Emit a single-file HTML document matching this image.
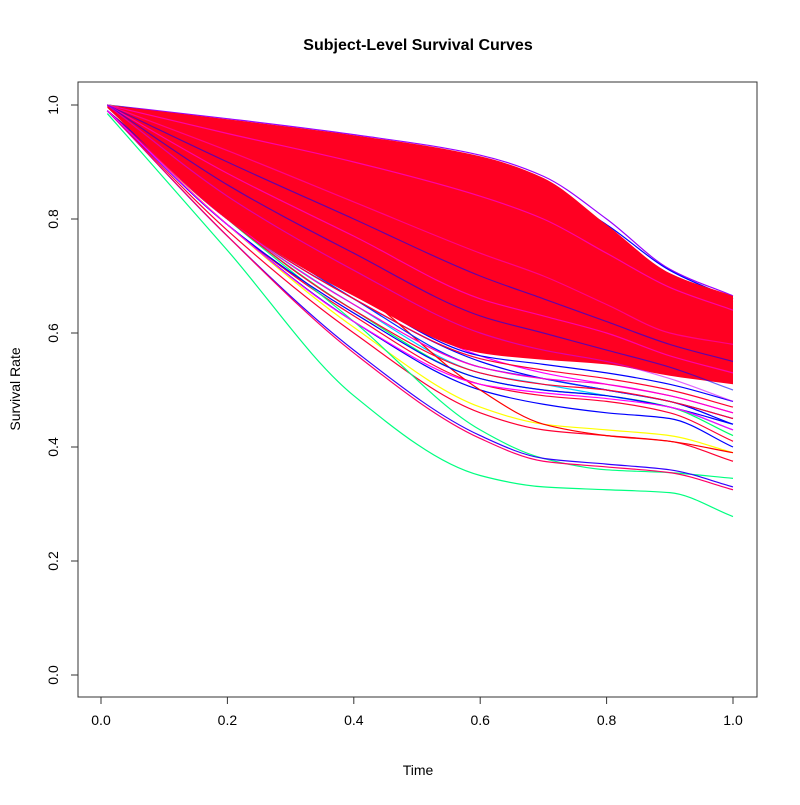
<!DOCTYPE html>
<html><head><meta charset="utf-8"><style>
body{margin:0;background:#fff}
text{font-family:"Liberation Sans",Arial,sans-serif}
</style></head><body>
<svg id="chart" width="800" height="800" xmlns="http://www.w3.org/2000/svg">
<rect width="800" height="800" fill="#fff"/>
<text x="418" y="50" text-anchor="middle" font-size="16" font-weight="bold">Subject-Level Survival Curves</text>
<text x="418" y="775" text-anchor="middle" font-size="14">Time</text>
<text x="20" y="389" text-anchor="middle" font-size="14" transform="rotate(-90 20 389)">Survival Rate</text>
<g id="curves"></g>
<rect x="78" y="82" width="679" height="615" fill="none" stroke="#333" stroke-width="1"/>
<g id="axes"></g>
</svg>
<script>
const times = [0.01, 0.2, 0.4, 0.6, 0.7, 0.8, 0.9, 1.0];
const bandUpper = [1.0, 0.975, 0.947, 0.91, 0.872, 0.79, 0.705, 0.665];
const bandLower = [0.995, 0.80, 0.665, 0.565, 0.553, 0.545, 0.525, 0.51];
const lowerCurves = [
 [0.99,0.80,0.66,0.55,0.52,0.50,0.48,0.44],
 [0.99,0.80,0.65,0.53,0.51,0.49,0.47,0.43],
 [0.99,0.80,0.64,0.52,0.50,0.49,0.47,0.42],
 [0.99,0.79,0.63,0.51,0.49,0.48,0.46,0.41],
 [0.99,0.79,0.62,0.50,0.475,0.46,0.45,0.40],
 [0.99,0.79,0.61,0.47,0.44,0.43,0.42,0.39],
 [0.99,0.78,0.60,0.46,0.43,0.42,0.41,0.375],
 [0.99,0.82,0.68,0.50,0.44,0.42,0.41,0.39],
 [0.99,0.80,0.62,0.43,0.38,0.36,0.355,0.345],
 [0.99,0.77,0.57,0.42,0.38,0.37,0.36,0.33],
 [0.99,0.77,0.565,0.415,0.375,0.365,0.355,0.325],
 [0.985,0.745,0.49,0.35,0.33,0.325,0.32,0.278],
 [0.99,0.81,0.67,0.56,0.53,0.51,0.49,0.46],
 [0.99,0.81,0.66,0.54,0.52,0.50,0.48,0.45],
 [0.99,0.80,0.66,0.555,0.535,0.52,0.50,0.47],
 [0.99,0.80,0.65,0.54,0.52,0.51,0.49,0.46],
 [0.99,0.81,0.67,0.56,0.545,0.53,0.51,0.48],
 [0.99,0.80,0.64,0.53,0.51,0.50,0.48,0.45],
 [0.99,0.79,0.635,0.52,0.50,0.49,0.47,0.44],
 [0.99,0.79,0.62,0.51,0.495,0.485,0.47,0.43]
];
const lowerColors = ["#0000ff","#00ccff","#00ff66","#ff0033","#0000ff","#ffff00","#ff0033","#ff0000","#00ff80","#3300ff","#ff0066","#00ff80","#ff00ff","#0033ff","#ff0033","#ff00cc","#0000ff","#ff0033","#0000ff","#ff00ff"];
const upperCurves = [
 [1,0.976,0.948,0.912,0.875,0.80,0.712,0.665],
 [1,0.97,0.94,0.90,0.86,0.78,0.70,0.66],
 [1,0.97,0.935,0.89,0.855,0.79,0.71,0.66],
 [1,0.965,0.93,0.88,0.845,0.77,0.70,0.655]
];
const upperColors = ["#9900ff","#80ff00","#0000ff","#ffcc00"];
const innerCurves = [
 [1,0.95,0.90,0.84,0.80,0.74,0.68,0.64],
 [1,0.92,0.83,0.74,0.70,0.65,0.60,0.58],
 [1,0.90,0.80,0.70,0.66,0.62,0.58,0.55],
 [1,0.88,0.77,0.66,0.63,0.60,0.56,0.53],
 [1,0.86,0.74,0.63,0.60,0.57,0.54,0.50],
 [1,0.84,0.71,0.60,0.57,0.55,0.52,0.48]
];
const innerColors = ["#ff00ff","#ff00cc","#0000ff","#ff00ff","#0000ff","#cc00ff"];
const xTicks = [0.0,0.2,0.4,0.6,0.8,1.0];
const yTicks = [0.0,0.2,0.4,0.6,0.8,1.0];

const NS="http://www.w3.org/2000/svg";
const xS = t => 101 + 632*t;
const yS = v => 675 - 570*v;
// monotone cubic (Fritsch-Carlson) path segments
function segs(p, rev){
  const n=p.length, dx=[], m=[], s=[];
  for(let i=0;i<n-1;i++){dx[i]=p[i+1][0]-p[i][0]; s[i]=(p[i+1][1]-p[i][1])/dx[i];}
  m[0]=s[0]; m[n-1]=s[n-2];
  for(let i=1;i<n-1;i++){
    if(s[i-1]*s[i]<=0) m[i]=0;
    else { const w1=2*dx[i]+dx[i-1], w2=dx[i]+2*dx[i-1]; m[i]=(w1+w2)/(w1/s[i-1]+w2/s[i]); }
  }
  const out=[];
  for(let i=0;i<n-1;i++){
    const h=dx[i]/3;
    out.push([[p[i][0]+h,p[i][1]+m[i]*h],[p[i+1][0]-h,p[i+1][1]-m[i+1]*h],p[i+1],p[i]]);
  }
  if(!rev) return out.map(o=>` C${o[0][0]},${o[0][1]} ${o[1][0]},${o[1][1]} ${o[2][0]},${o[2][1]}`).join('');
  return out.reverse().map(o=>` C${o[1][0]},${o[1][1]} ${o[0][0]},${o[0][1]} ${o[3][0]},${o[3][1]}`).join('');
}
function pts(vals){return vals.map((v,i)=>[xS(times[i]), yS(v)]);}
function smooth(vals){const p=pts(vals);return `M${p[0][0]},${p[0][1]}`+segs(p,false);}
function smoothRev(vals){const p=pts(vals);const l=p[p.length-1];return ` L${l[0]},${l[1]}`+segs(p,true)+" Z";}
const g=document.getElementById('curves');
function line(vals,color,name,op){
  const el=document.createElementNS(NS,'path');
  el.setAttribute('d',smooth(vals));
  el.setAttribute('fill','none');
  el.setAttribute('stroke',color);
  el.setAttribute('stroke-width','1.2');
  if(op) el.setAttribute('stroke-opacity',op);
  
  
  g.appendChild(el);
}
upperCurves.forEach((c,i)=>line(c,upperColors[i],'survival-curve-upper'));
lowerCurves.forEach((c,i)=>line(c,lowerColors[i],'survival-curve-lower'));
const band=document.createElementNS(NS,'path');
band.setAttribute('d',smooth(bandUpper)+smoothRev(bandLower));
band.setAttribute('fill','#ff0022');


g.appendChild(band);
innerCurves.forEach((c,i)=>line(c,innerColors[i],'survival-curve-inner',0.6));

const ax=document.getElementById('axes');
function add(tag,attrs,name,txt){
  const el=document.createElementNS(NS,tag);
  for(const k in attrs) el.setAttribute(k,attrs[k]);
  
  
  if(txt!==undefined) el.textContent=txt;
  ax.appendChild(el);
}
add('line',{x1:xS(0),x2:xS(1),y1:697,y2:697,stroke:'#333'},'x-axis-line');
xTicks.forEach(t=>{
  add('line',{x1:xS(t),x2:xS(t),y1:697,y2:704,stroke:'#333'},'x-tick');
  add('text',{x:xS(t),y:725,'text-anchor':'middle','font-size':14},'x-tick-label',t.toFixed(1));
});
add('line',{x1:78,x2:78,y1:yS(0),y2:yS(1),stroke:'#333'},'y-axis-line');
yTicks.forEach(v=>{
  add('line',{x1:71,x2:78,y1:yS(v),y2:yS(v),stroke:'#333'},'y-tick');
  add('text',{x:58,y:yS(v),'text-anchor':'middle','font-size':14,transform:`rotate(-90 58 ${yS(v)})`},'y-tick-label',v.toFixed(1));
});
</script>
</body></html>
